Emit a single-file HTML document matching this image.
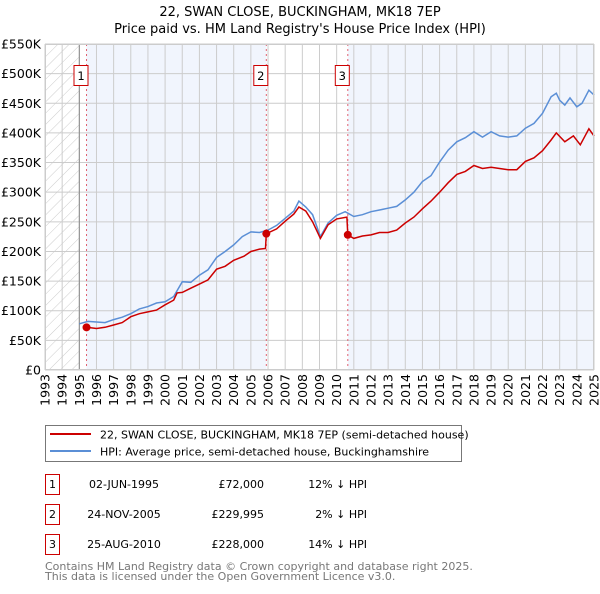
<!DOCTYPE html>
<html><head><meta charset="utf-8"><style>
body{margin:0;background:#fff;font-family:"DejaVu Sans","Liberation Sans",sans-serif;}
svg text{font-family:"DejaVu Sans","Liberation Sans",sans-serif;}
</style></head><body>
<svg id="c" width="600" height="590" xmlns="http://www.w3.org/2000/svg">
<defs><pattern id="hatch" width="8" height="8" patternUnits="userSpaceOnUse" patternTransform="rotate(45)"><line x1="0" y1="0" x2="0" y2="8" stroke="#ccc" stroke-width="1"/></pattern></defs>
<text x="300" y="16" text-anchor="middle" font-size="13" fill="#000">22, SWAN CLOSE, BUCKINGHAM, MK18 7EP</text>
<text x="300" y="33" text-anchor="middle" font-size="13" fill="#000">Price paid vs. HM Land Registry's House Price Index (HPI)</text>
<g id="plot"></g>
<g>
<rect x="45.5" y="425.5" width="416" height="36" fill="#fff" stroke="#777"/>
<line x1="50" y1="434" x2="91" y2="434" stroke="#cc0000" stroke-width="2"/>
<text x="100" y="438.5" font-size="11">22, SWAN CLOSE, BUCKINGHAM, MK18 7EP (semi-detached house)</text>
<line x1="50" y1="451" x2="91" y2="451" stroke="#5b8fd6" stroke-width="2"/>
<text x="100" y="455.5" font-size="11">HPI: Average price, semi-detached house, Buckinghamshire</text>
</g>
<g id="table" font-size="11"></g>
<text x="45" y="570" font-size="11" fill="#777">Contains HM Land Registry data © Crown copyright and database right 2025.</text>
<text x="45" y="580" font-size="11" fill="#777">This data is licensed under the Open Government Licence v3.0.</text>
</svg>
<script>
const hpiYears=[1995,1995.5,1996,1996.5,1997,1997.5,1998,1998.5,1999,1999.5,2000,2000.5,2001,2001.5,2002,2002.5,2003,2003.5,2004,2004.5,2005,2005.5,2006,2006.5,2007,2007.5,2007.8,2008.2,2008.6,2009.05,2009.5,2010,2010.5,2011,2011.5,2012,2012.5,2013,2013.5,2014,2014.5,2015,2015.5,2016,2016.5,2017,2017.5,2018,2018.5,2019,2019.5,2020,2020.5,2021,2021.5,2022,2022.5,2022.8,2023,2023.3,2023.6,2024,2024.3,2024.7,2025];
const hpiValues=[78,82,81,80,85,89,95,103,107,113,115,124,149,148,160,169,190,200,211,225,233,232,236,244,256,268,285,275,262,225,248,261,267,259,262,267,270,273,276,287,300,318,328,351,371,385,392,402,393,402,395,393,395,408,416,433,461,467,455,447,459,444,450,472,464];
const ppYears=[1995.42,1996,1996.5,1997,1997.5,1998,1998.5,1999,1999.5,2000,2000.5,2000.7,2001,2001.5,2002,2002.5,2003,2003.5,2004,2004.6,2005,2005.5,2005.85,2005.9,2006.5,2007,2007.5,2007.8,2008.2,2008.6,2009.05,2009.5,2010,2010.6,2010.65,2011,2011.5,2012,2012.5,2013,2013.5,2014,2014.5,2015,2015.5,2016,2016.5,2017,2017.5,2018,2018.5,2019,2019.5,2020,2020.5,2021,2021.5,2022,2022.5,2022.8,2023.3,2023.8,2024.2,2024.7,2025];
const ppValues=[72,70,72,76,80,90,95,98,101,110,118,130,131,138,145,152,170,175,185,192,200,204,205,230,238,251,263,275,268,250,222,245,255,258,228,222,226,228,232,232,236,248,258,272,285,300,316,330,335,345,340,342,340,338,338,352,358,370,388,400,385,395,380,407,395];
const saleYears=[1995.42,2005.9,2010.65];
const saleValues=[72000,229995,228000];
const saleDates=["02-JUN-1995","24-NOV-2005","25-AUG-2010"];
const salePct=["12% \u2193 HPI","2% \u2193 HPI","14% \u2193 HPI"];
const yTicks=[0,50,100,150,200,250,300,350,400,450,500,550];
const yTickLabels=["£0","£50K","£100K","£150K","£200K","£250K","£300K","£350K","£400K","£450K","£500K","£550K"];
const xTicks=[1993,1994,1995,1996,1997,1998,1999,2000,2001,2002,2003,2004,2005,2006,2007,2008,2009,2010,2011,2012,2013,2014,2015,2016,2017,2018,2019,2020,2021,2022,2023,2024,2025];

const NS="http://www.w3.org/2000/svg";
const X0=45,X1=594,Y0=370,Y1=44;
const xs=y=>X0+(y-1993)/(2025-1993)*(X1-X0);
const ys=v=>Y0-v/550*(Y0-Y1);
const plot=document.getElementById('plot');
function mk(tag,attrs,parent){const e=document.createElementNS(NS,tag);for(const k in attrs)e.setAttribute(k,attrs[k]);(parent||plot).appendChild(e);return e;}
let e;
e=mk('rect',{x:X0,y:Y1,width:X1-X0,height:Y0-Y1,fill:'#fff'});


e=mk('rect',{x:xs(1995),y:Y1,width:xs(saleYears[0])-xs(1995),height:Y0-Y1,fill:'#fff'});
e=mk('rect',{x:X0,y:Y1,width:xs(1995)-X0,height:Y0-Y1,fill:'url(#hatch)'});


e=mk('rect',{x:xs(saleYears[0]),y:Y1,width:xs(saleYears[1])-xs(saleYears[0]),height:Y0-Y1,fill:'#eef3fc',opacity:0.8});


e=mk('rect',{x:xs(saleYears[2]),y:Y1,width:xs(2025)-xs(saleYears[2]),height:Y0-Y1,fill:'#eef3fc',opacity:0.8});


yTicks.forEach((v,i)=>{
  e=mk('line',{x1:X0,x2:X1,y1:ys(v),y2:ys(v),stroke:'#ccc','stroke-width':1});
  
  
  e=mk('text',{x:X0-4,y:ys(v)+4.5,'text-anchor':'end','font-size':12.5,fill:'#000'});
  e.textContent=yTickLabels[i];
  
  
});
xTicks.forEach(y=>{
  e=mk('line',{x1:xs(y),x2:xs(y),y1:Y1,y2:Y0,stroke:'#ccc','stroke-width':1});
  
  
  e=mk('text',{x:0,y:0,'text-anchor':'end','font-size':12.5,fill:'#000',transform:`translate(${xs(y)+4.5},${Y0+4}) rotate(-90)`});
  e.textContent=y;
  
  
});
e=mk('line',{x1:xs(1995),x2:xs(1995),y1:Y1,y2:Y0,stroke:'#888','stroke-width':1});
saleYears.forEach((y,i)=>{
  e=mk('line',{x1:xs(y),x2:xs(y),y1:Y1,y2:Y0,stroke:'#e06070','stroke-width':1,'stroke-dasharray':'2,3'});
  
  
});
const path=(xa,va)=>xa.map((y,i)=>(i?'L':'M')+xs(y).toFixed(1)+','+ys(va[i]).toFixed(1)).join('');
e=mk('path',{d:path(hpiYears,hpiValues),fill:'none',stroke:'#5b8fd6','stroke-width':1.5});


e=mk('path',{d:path(ppYears,ppValues),fill:'none',stroke:'#cc0000','stroke-width':1.5});


saleYears.forEach((y,i)=>{
  e=mk('circle',{cx:xs(y),cy:ys(saleValues[i]/1000),r:4,fill:'#cc0000'});
  
  
  const bx=xs(y)-(i==0?8:i==1?7:7)-(i==2?7:0);
  e=mk('rect',{x:xs(y)-14.5+ (i==2?-5:0)+(i==1?2:0)+(i==0?7:0)-7+7,y:65.5,width:14,height:20,fill:'#fff',stroke:'#cc0000'});
  e.setAttribute('x',(i==0?xs(y)-12.5:i==1?xs(y)-12.5:xs(y)-12.5).toFixed(1));
  
  
  e=mk('text',{x:xs(y)-5.5,y:80,'text-anchor':'middle','font-size':11.5});
  e.textContent=i+1;
  
  
});
e=mk('rect',{x:X0+0.5,y:Y1+0.5,width:X1-X0-1,height:Y0-Y1-1,fill:'none',stroke:'#ccc'});
const tb=document.getElementById('table');
const rowY=[487,517,547];
saleDates.forEach((d,i)=>{
  e=mk('rect',{x:45.5,y:rowY[i]-12.5,width:14,height:20,fill:'#fff',stroke:'#cc0000'},tb);
  
  
  e=mk('text',{x:52.5,y:rowY[i]+1,'text-anchor':'middle'},tb);e.textContent=i+1;
  e=mk('text',{x:124,y:rowY[i]+1,'text-anchor':'middle'},tb);e.textContent=d;
  
  
  e=mk('text',{x:264,y:rowY[i]+1,'text-anchor':'end'},tb);e.textContent='£'+saleValues[i].toLocaleString('en-GB');
  
  
  e=mk('text',{x:367,y:rowY[i]+1,'text-anchor':'end'},tb);e.textContent=salePct[i];
  
  
});
</script>
</body></html>
